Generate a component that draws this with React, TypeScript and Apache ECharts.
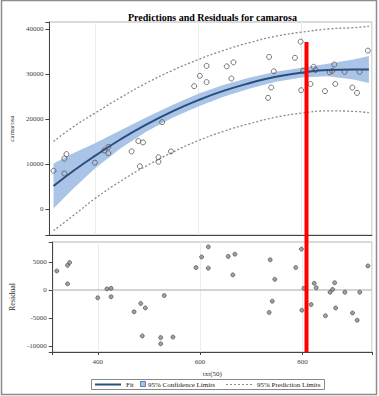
import React, { useEffect, useRef } from "react";
import * as echarts from "echarts";

// ---- data ----
const obsX = [320, 341, 341, 345, 400, 418, 426, 426, 471, 484, 493, 487, 523, 523, 530, 547, 592, 603, 616, 616, 655, 668, 664, 737, 746, 741, 735, 798, 787, 799, 803, 817, 823, 827, 845, 854, 859, 863, 865, 883, 898, 907, 912, 928];
const obsY = [8500, 7900, 11200, 12200, 10300, 13000, 13800, 12400, 12800, 15100, 14800, 9500, 11500, 10500, 19300, 12800, 27300, 29600, 31800, 28200, 31700, 32600, 29000, 33800, 30600, 27000, 24700, 37200, 33600, 26400, 30700, 27800, 31600, 30900, 26200, 30400, 30700, 32100, 27800, 30500, 27000, 25800, 30500, 35200];
const residuals = [3400, 1100, 4400, 4900, -1400, 200, 300, -1200, -3900, -2400, -3200, -8200, -8500, -9600, -1000, -8400, 4000, 5900, 7700, 3900, 6000, 6400, 2700, 5400, 1900, -2000, -4000, 7300, 4000, -3600, 300, -2600, 1200, 400, -4600, -400, 100, 1300, -3200, -400, -4100, -5400, -400, 4300];

const curveX = [320, 360, 400, 450, 500, 550, 600, 650, 700, 750, 800, 850, 900, 930];
const fitY = [5100, 8600, 11800, 15500, 18800, 21700, 24200, 26300, 28000, 29400, 30300, 30900, 31000, 31000];
const clLower = [100, 4700, 9000, 13500, 17200, 20300, 22800, 25000, 26800, 28300, 29200, 29500, 28800, 28000];
const clUpper = [10100, 12500, 14600, 17500, 20400, 23100, 25600, 27600, 29200, 30500, 31400, 32300, 33200, 34000];
const plLower = [-4800, -1300, 2300, 6200, 9600, 12600, 15200, 17300, 19000, 20400, 21300, 21800, 21700, 21400];
const plUpper = [15000, 18400, 21300, 24800, 28000, 30800, 33200, 35300, 37000, 38400, 39300, 40000, 40300, 40600];

const xTicks = [400, 600, 800];
const yTopTicks = [0, 10000, 20000, 30000, 40000];
const yResTicks = [-10000, -5000, 0, 5000];
const redLineX = 808;

const TITLE = "Predictions and Residuals for camarosa";
const FONT = "'Liberation Serif', 'DejaVu Serif', serif";

const zip = (a: number[], b: number[]) => a.map((v, i) => [v, b[i]]);

export default function App() {
  const ref = useRef<HTMLDivElement>(null);
  useEffect(() => {
    document.body.style.margin = "0";
    const chart = echarts.init(ref.current!, null, { renderer: "svg" });
    const axisLineStyle = { color: "#444", width: 1 };
    const labelStyle = { fontFamily: FONT, fontSize: 7, color: "#444" };
    const xCommon = {
      type: "value",
      min: 312,
      max: 936,
      minInterval: 200,
      maxInterval: 200,
      axisLine: { show: true, onZero: false, lineStyle: axisLineStyle },
      splitLine: { show: true, lineStyle: { color: "#ececec", width: 1 } },
    };
    chart.setOption({
      animation: false,
      backgroundColor: "#fff",
      title: {
        text: TITLE,
        left: 123,
        top: 7,
        textStyle: { fontFamily: FONT, fontSize: 10, fontWeight: "bold", color: "#000" },
      },
      grid: [
        { left: 46, top: 22, width: 326, height: 213, show: true, borderColor: "#b5b5b5", borderWidth: 1 },
        { left: 46, top: 242, width: 326, height: 110, show: true, borderColor: "#b5b5b5", borderWidth: 1 },
      ],
      xAxis: [
        { ...xCommon, gridIndex: 0, axisLabel: { show: false }, axisTick: { show: false } },
        {
          ...xCommon,
          gridIndex: 1,
          name: "txt(50)",
          nameLocation: "middle",
          nameGap: 18,
          nameTextStyle: { fontFamily: FONT, fontSize: 7, color: "#333" },
          axisTick: { show: true, length: 3, lineStyle: { color: "#444" } },
          axisLabel: {
            ...labelStyle,
            margin: 6,
            formatter: (v: number) => (xTicks.includes(v) ? String(v) : ""),
          },
        },
      ],
      yAxis: [
        {
          type: "value",
          gridIndex: 0,
          min: -5780,
          max: 41560,
          minInterval: 10000,
          maxInterval: 10000,
          name: "camarosa",
          nameLocation: "middle",
          nameRotate: 90,
          nameGap: 30,
          nameTextStyle: { fontFamily: FONT, fontSize: 7, color: "#333" },
          axisLine: { show: true, onZero: false, lineStyle: axisLineStyle },
          axisTick: { show: true, length: 4, lineStyle: { color: "#444" } },
          splitLine: { show: false },
          axisLabel: {
            ...labelStyle,
            margin: 6,
            formatter: (v: number) => (yTopTicks.includes(v) ? String(v) : ""),
          },
        },
        {
          type: "value",
          gridIndex: 1,
          min: -11070,
          max: 8570,
          minInterval: 5000,
          maxInterval: 5000,
          name: "Residual",
          nameLocation: "middle",
          nameRotate: 90,
          nameGap: 30,
          nameTextStyle: { fontFamily: FONT, fontSize: 8, color: "#333" },
          axisLine: { show: true, onZero: false, lineStyle: axisLineStyle },
          axisTick: { show: true, length: 4, lineStyle: { color: "#444" } },
          splitLine: { show: false },
          axisLabel: {
            ...labelStyle,
            margin: 6,
            formatter: (v: number) => (yResTicks.includes(v) ? String(v) : ""),
          },
        },
      ],
      series: [
        {
          type: "custom",
          name: "95% Confidence Limits",
          xAxisIndex: 0,
          yAxisIndex: 0,
          data: curveX.map((x, i) => [x, clLower[i], clUpper[i]]),
          encode: { x: 0, y: [1, 2] },
          z: 1,
          silent: true,
          renderItem: (params: any, api: any) => {
            if (params.dataIndex !== 0) return null;
            const upper = curveX.map((x, i) => api.coord([x, clUpper[i]]));
            const lower = curveX.map((x, i) => api.coord([x, clLower[i]])).reverse();
            return {
              type: "polygon",
              shape: { points: upper.concat(lower) },
              style: { fill: "#a9c4e6", stroke: "none" },
            };
          },
        },
        {
          type: "line",
          name: "PL lower",
          xAxisIndex: 0,
          yAxisIndex: 0,
          smooth: true,
          symbol: "none",
          lineStyle: { color: "#8a8a8a", width: 1.3, type: [2, 2] },
          data: zip(curveX, plLower),
          z: 2,
        },
        {
          type: "line",
          name: "PL upper",
          xAxisIndex: 0,
          yAxisIndex: 0,
          smooth: true,
          symbol: "none",
          lineStyle: { color: "#8a8a8a", width: 1.3, type: [2, 2] },
          data: zip(curveX, plUpper),
          z: 2,
        },
        {
          type: "line",
          name: "Fit",
          xAxisIndex: 0,
          yAxisIndex: 0,
          smooth: true,
          symbol: "none",
          lineStyle: { color: "#2b4c7e", width: 2 },
          data: zip(curveX, fitY),
          z: 3,
        },
        {
          type: "scatter",
          name: "obs",
          xAxisIndex: 0,
          yAxisIndex: 0,
          symbol: "circle",
          symbolSize: 5,
          itemStyle: { color: "rgba(255,255,255,0)", borderColor: "#555", borderWidth: 1 },
          data: zip(obsX, obsY),
          z: 4,
        },
        {
          type: "scatter",
          name: "res",
          xAxisIndex: 1,
          yAxisIndex: 1,
          symbol: "circle",
          symbolSize: 4,
          itemStyle: { color: "#8a8a8a", borderColor: "#444", borderWidth: 0.8 },
          data: zip(obsX, residuals),
          z: 4,
          markLine: {
            silent: true,
            symbol: ["none", "none"],
            label: { show: false },
            lineStyle: { color: "#c4c4c4", width: 1.5, type: "solid" },
            data: [{ yAxis: 0 }],
            z: 1,
          },
        },
      ],
    });

    const px = chart.convertToPixel({ xAxisIndex: 1 }, redLineX) as number;
    const redTop = chart.convertToPixel({ yAxisIndex: 0 }, 37100) as number;
    const redBottom = chart.convertToPixel({ yAxisIndex: 1 }, -11070) as number;
    const legendText = { fontFamily: FONT, fontSize: 7, fill: "#222", verticalAlign: "middle" };
    const ly = 384.5;
    chart.setOption({
      graphic: [
        {
          type: "rect",
          shape: { x: 1.5, y: 0.5, width: 375, height: 394 },
          style: { fill: "none", stroke: "#8c8c8c", lineWidth: 1.5 },
          silent: true,
          z: 100,
        },
        {
          type: "rect",
          shape: { x: 91.5, y: 379.5, width: 233, height: 10 },
          style: { fill: "#fff", stroke: "#888", lineWidth: 1 },
          z: 100,
        },
        {
          type: "line",
          shape: { x1: 95, y1: ly, x2: 121, y2: ly },
          style: { stroke: "#2b4c7e", lineWidth: 2 },
          z: 101,
        },
        { type: "text", x: 126, y: ly, style: { ...legendText, text: "Fit" }, z: 101 },
        {
          type: "rect",
          shape: { x: 140.5, y: 381.5, width: 5, height: 5 },
          style: { fill: "#a9c4e6", stroke: "#5b7fb4", lineWidth: 1 },
          z: 101,
        },
        { type: "text", x: 148, y: ly, style: { ...legendText, text: "95% Confidence Limits" }, z: 101 },
        {
          type: "line",
          shape: { x1: 226, y1: ly, x2: 252, y2: ly },
          style: { stroke: "#8a8a8a", lineWidth: 1, lineDash: [2, 2] },
          z: 101,
        },
        { type: "text", x: 257, y: ly, style: { ...legendText, text: "95% Prediction Limits" }, z: 101 },
        {
          type: "line",
          shape: { x1: px, y1: redTop, x2: px, y2: redBottom },
          style: { stroke: "#ff0000", lineWidth: 4 },
          z: 110,
        },
      ],
    });
    return () => chart.dispose();
  }, []);
  return <div ref={ref} style={{ width: 379, height: 396 }} />;
}
